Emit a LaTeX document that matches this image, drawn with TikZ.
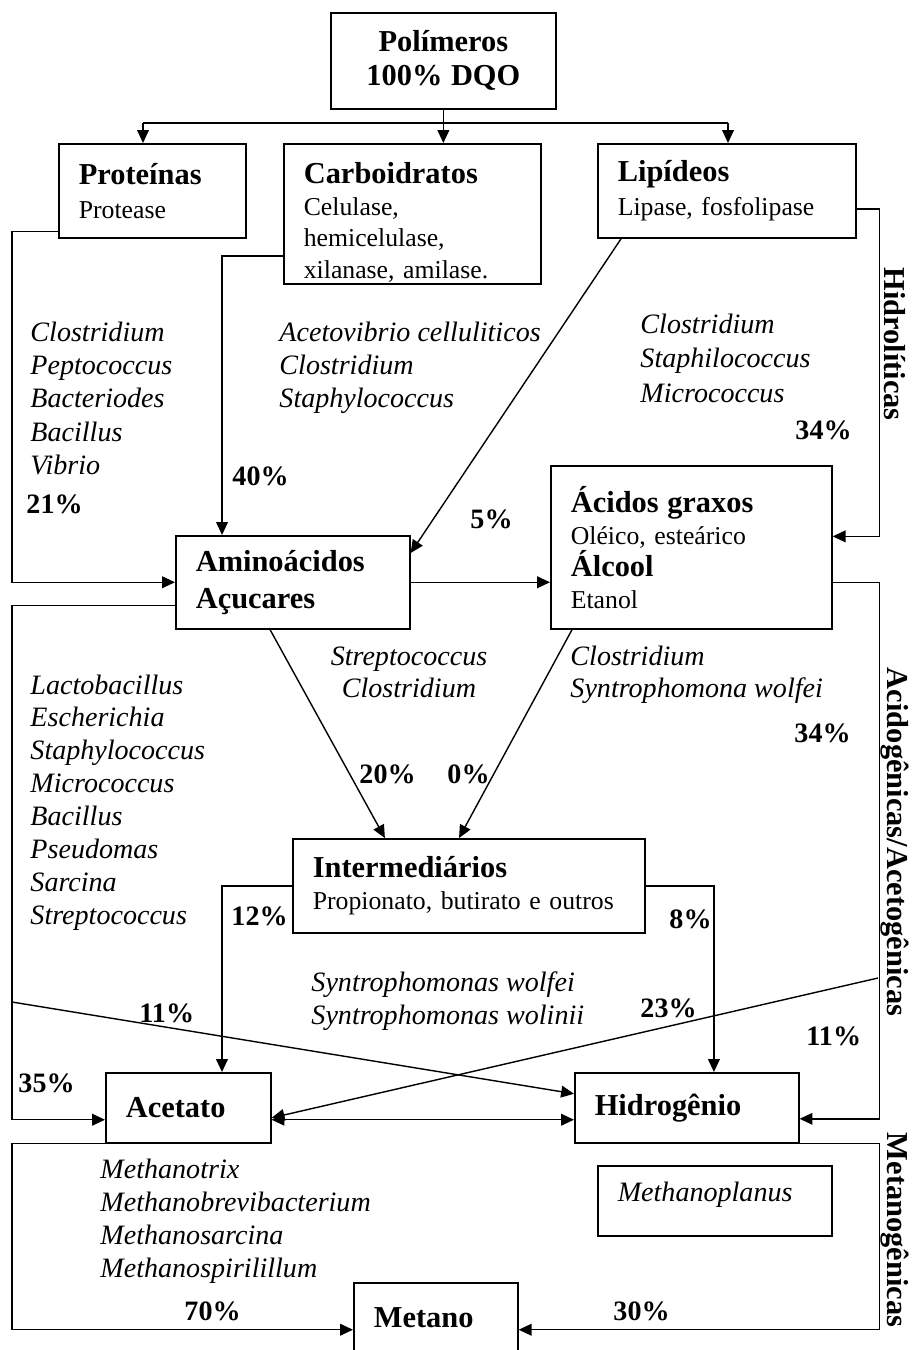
\documentclass[tikz,border=0pt]{standalone}
\usepackage{fontspec}
\setmainfont{Liberation Serif}
\usetikzlibrary{arrows.meta}
\newcommand{\titulo}[1]{{\fontsize{13}{15}\selectfont\bfseries #1}}
\tikzset{
  caixa/.style={draw, line width=0.7pt, anchor=north west, align=left,
    inner xsep=8.55pt, inner ysep=0pt, font=\fontsize{11}{14.5}\selectfont},
  especie/.style={anchor=base west, inner sep=0pt, font=\fontsize{12}{14}\selectfont\itshape},
  pct/.style={anchor=base west, inner sep=0pt, font=\fontsize{12}{14}\selectfont\bfseries},
  fase/.style={rotate=-90, inner sep=0pt, font=\fontsize{13}{15}\selectfont\bfseries},
  seta/.style={-{Triangle[length=5.5pt,width=5pt]}, line width=0.6pt},
  seta2/.style={{Triangle[length=5.5pt,width=5pt]}-{Triangle[length=5.5pt,width=5pt]}, line width=0.6pt}
}

\begin{document}
\begin{tikzpicture}[x=0.4274pt, y=-0.4274pt]
        \useasboundingbox (0,0) rectangle (913,1350);
        % caixas
        \node[caixa, align=center, text width=79.1pt, minimum height=41pt] (poli) at (330,12) {\titulo{Polímeros}\\\titulo{100\% DQO}};
        \node[caixa, text width=62.8pt, minimum height=40.2pt] (prot) at (58,143) {\titulo{Proteínas}\\Protease};
        \node[caixa, text width=92.7pt, minimum height=59.8pt, font=\fontsize{11}{13.5}\selectfont] (carb) at (283,143) {\rule{0pt}{16.5pt}\titulo{Carboidratos}\\Celulase,\\hemicelulase,\\xilanase, amilase.};
        \node[caixa, text width=93.2pt, minimum height=40.2pt] (lip) at (597,143) {\titulo{Lipídeos}\\Lipase, fosfolipase};
        \node[caixa, text width=82.9pt, minimum height=39.7pt, font=\fontsize{11}{15.8}\selectfont] (amino) at (175,535) {\titulo{Aminoácidos}\\\titulo{Açucares}};
        \node[caixa, text width=103pt, minimum height=69.7pt, font=\fontsize{11}{13.7}\selectfont] (acid) at (550,465) {\titulo{Ácidos graxos}\\Oléico, esteárico\\\titulo{Álcool}\\Etanol};
        \node[caixa, text width=133.3pt, minimum height=40.2pt, font=\fontsize{11}{13.5}\selectfont] (inter) at (292,838) {\titulo{Intermediários}\\Propionato, butirato e outros};
        \node[caixa, text width=53.4pt, minimum height=29.9pt] (acet) at (105,1072) {\titulo{Acetato}};
        \node[caixa, text width=78.6pt, minimum height=29.9pt] (hidro) at (574,1072) {\titulo{Hidrogênio}};
        \node[caixa, text width=82.9pt, minimum height=29.9pt, text depth=7.7pt] (mplan) at (597,1165) {\fontsize{12}{14}\selectfont\itshape Methanoplanus};
        \node[caixa, text width=53pt, minimum height=29.9pt] (metano) at (353,1282) {\titulo{Metano}};
        % ligacoes
        \coordinate (rP) at (143,123);
        \coordinate (rL) at (728,123);
        \coordinate (cE) at (12,1002);
        \coordinate (cD) at (878,978);
        \draw[seta] (poli.south) -- (poli.south |- carb.north);
        \draw[line width=0.6pt] (rP) -- (rL);
        \draw[seta] (rP) -- (rP |- prot.north);
        \draw[seta] (rL) -- (rL |- lip.north);
        \draw[seta] ([yshift=3pt]prot.south west) -- ++(-46,0) |- (amino.west);
        \draw[seta] ([yshift=-18pt]carb.west) -| ([xshift=20.1pt]amino.north west);
        \draw[seta] ([xshift=10.3pt]lip.south west) -- ([yshift=-7.7pt]amino.north east);
        \draw[seta] ([yshift=-7.7pt]lip.east) -- ++(23,0) |- ([yshift=4.7pt]acid.east);
        \draw[seta] (amino.east) -- (amino.east -| acid.west);
        \draw[seta] ([yshift=-10pt]amino.west) -- ++(-163,0) |- ([yshift=-5.1pt]acet.west);
        \draw[seta] (amino.east -| acid.east) -- ++(47,0) |- ([yshift=-4.7pt]hidro.east);
        \draw[seta] (cE) -- ([yshift=6pt]hidro.west);
        \draw[seta] (cD) -- ([yshift=-4.3pt]acet.east);
        \draw[seta] ([xshift=40.6pt]amino.south west) -- ([xshift=39.7pt]inter.north west);
        \draw[seta] ([xshift=9.4pt]acid.south west) -- ([xshift=71.4pt]inter.north west);
        \draw[seta] (inter.west) -| ([xshift=50pt]acet.north west);
        \draw[seta] (inter.east) -| ([xshift=59.8pt]hidro.north west);
        \draw[seta2] ([yshift=-5.1pt]acet.east) -- ([yshift=-5.1pt]hidro.west);
        \draw[seta] (acet.south west) -- ++(-93,0) |- ([yshift=-5.1pt]metano.west);
        \draw[seta] (hidro.south east) -- ++(80,0) |- ([yshift=-5.1pt]metano.east);
        % bacterias
        \foreach \g [count=\i from 0] in {Clostridium,Peptococcus,Bacteriodes,Bacillus,Vibrio}
            \node[especie] (bprot\i) at (30,{342+33*\i}) {\g};
        \foreach \g [count=\i from 0] in {Acetovibrio celluliticos,Clostridium,Staphylococcus}
            \node[especie] (bcarb\i) at (279,{342+33*\i}) {\g};
        \foreach \g [count=\i from 0] in {Clostridium,Staphilococcus,Micrococcus}
            \node[especie] (blip\i) at (640,{334+34*\i}) {\g};
        \foreach \g [count=\i from 0] in {Streptococcus,Clostridium}
            \node[especie, anchor=base] (bami\i) at (409,{665+32*\i}) {\g};
        \foreach \g [count=\i from 0] in {Clostridium,Syntrophomona wolfei}
            \node[especie] (bacid\i) at (570,{665+32*\i}) {\g};
        \foreach \g [count=\i from 0] in {Lactobacillus,Escherichia,Staphylococcus,Micrococcus,Bacillus,Pseudomas,Sarcina,Streptococcus}
            \node[especie] (bfer\i) at (30,{694+32.9*\i}) {\g};
        \foreach \g [count=\i from 0] in {Syntrophomonas wolfei,Syntrophomonas wolinii}
            \node[especie] (bint\i) at (311,{991+33*\i}) {\g};
        \foreach \g [count=\i from 0] in {Methanotrix,Methanobrevibacterium,Methanosarcina,Methanospirilillum}
            \node[especie] (bmet\i) at (100,{1178+33*\i}) {\g};
        % percentuais
        \node[pct] (p21) at (26,513) {21\%};
        \node[pct] (p40) at (232,485) {40\%};
        \node[pct] (p5) at (470,528) {5\%};
        \node[pct] (p34a) at (795,440) {34\%};
        \node[pct] (p34b) at (794,742) {34\%};
        \node[pct] (p20) at (359,783) {20\%};
        \node[pct] (p0) at (447,783) {0\%};
        \node[pct] (p12) at (231,925) {12\%};
        \node[pct] (p8) at (669,928) {8\%};
        \node[pct] (p11a) at (139,1022) {11\%};
        \node[pct] (p23) at (640,1017) {23\%};
        \node[pct] (p11b) at (806,1045) {11\%};
        \node[pct] (p35) at (18,1092) {35\%};
        \node[pct] (p70) at (184,1320) {70\%};
        \node[pct] (p30) at (613,1320) {30\%};
        % fases
        \node[fase] (fhid) at (895,344) {Hidrolíticas};
        \node[fase] (facid) at (895,842) {Acidogênicas/Acetogênicas};
        \node[fase] (fmet) at (895,1230) {Metanogênicas};
\end{tikzpicture}
\end{document}
